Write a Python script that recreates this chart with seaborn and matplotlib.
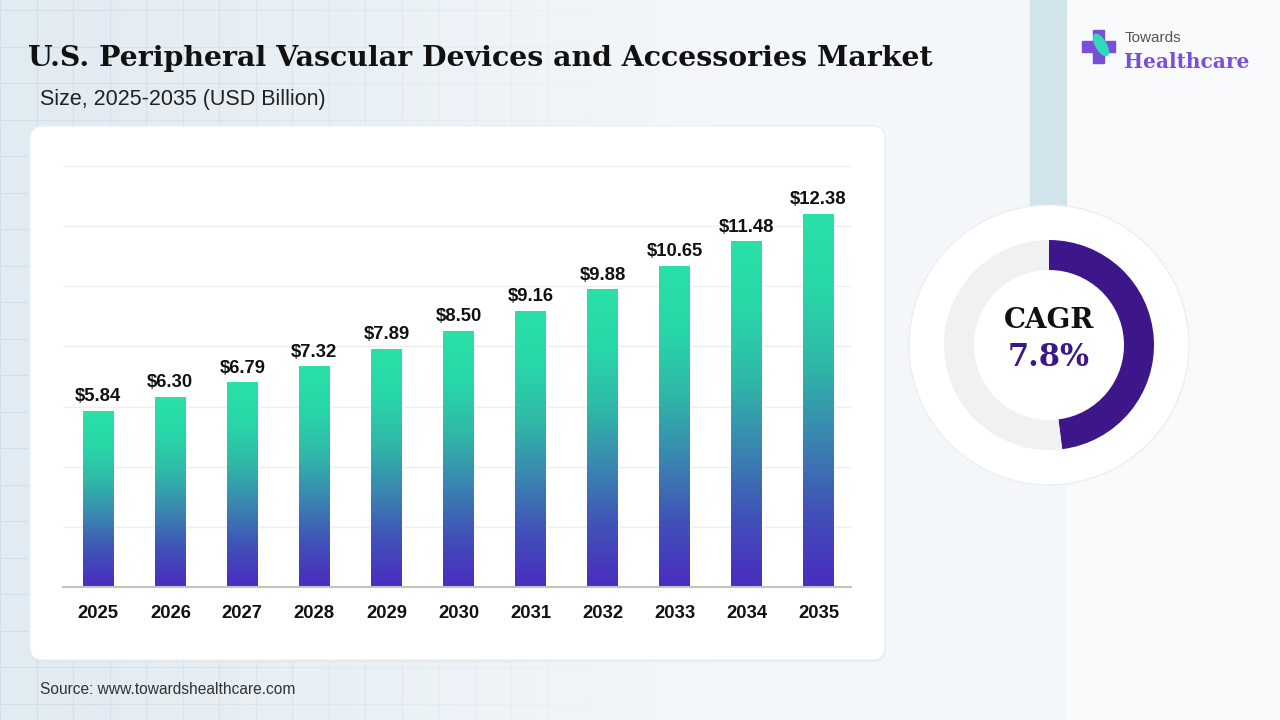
import numpy as np
import matplotlib
matplotlib.use("Agg")
import matplotlib.pyplot as plt
import seaborn as sns
from matplotlib.patches import FancyBboxPatch, Circle, Rectangle, Ellipse
from matplotlib.colors import LinearSegmentedColormap
from matplotlib.collections import LineCollection

# data
years = ["2025", "2026", "2027", "2028", "2029", "2030",
         "2031", "2032", "2033", "2034", "2035"]
market_size = [5.84, 6.30, 6.79, 7.32, 7.89, 8.50, 9.16, 9.88, 10.65, 11.48, 12.38]
value_labels = [f"${v:.2f}" for v in market_size]
cagr_text = "7.8%"
gauge_share = [0.48, 0.52]   # filled part of the ring vs rest

title = "U.S. Peripheral Vascular Devices and Accessories Market"
subtitle = "Size, 2025-2035 (USD Billion)"
source = "Source: www.towardshealthcare.com"

sns.set_theme(style="white")
plt.rcParams['font.family'] = ['Liberation Sans', 'DejaVu Sans']

W, H = 1280, 720
fig = plt.figure(figsize=(12.8, 7.2), dpi=100)

# ---- background layer, pixel coords ----
bg = fig.add_axes([0, 0, 1, 1], zorder=0)
bg_cmap = LinearSegmentedColormap.from_list('bg', ['#e1ebf2', '#eaf1f6', '#f3f7fa', '#f5f8fa'])
bg.imshow(np.linspace(0, 1, 256)[None, :], extent=[0, 1066, H, 0],
          cmap=bg_cmap, aspect='auto', zorder=0)

# faint grid that fades towards the right
segs, cols = [], []
step = 36.5
xs_edges = np.arange(0, 700, 20)
for gy in np.arange(10, H, step):
    for xa in xs_edges:
        segs.append([(xa, gy), (xa + 20, gy)])
        cols.append((0.80, 0.86, 0.91, max(0.0, 0.75 - xa / 850)))
for gx in np.arange(0, 700, step):
    segs.append([(gx, 0), (gx, H)])
    cols.append((0.80, 0.86, 0.91, max(0.0, 0.75 - gx / 850)))
bg.add_collection(LineCollection(segs, colors=cols, linewidths=0.8, zorder=1))

bg.add_patch(Rectangle((1066, 0), 214, H, color='#f9fafc', zorder=2))
bg.add_patch(Rectangle((1030, 0), 36, 205, color='#d1e3eb', zorder=2))

# card
bg.add_patch(FancyBboxPatch((31, 128), 855, 534, boxstyle='round,pad=0,rounding_size=13',
                            fc='#dde6ee', ec='none', alpha=0.6, zorder=3))
bg.add_patch(FancyBboxPatch((30, 126), 855, 534, boxstyle='round,pad=0,rounding_size=13',
                            fc='white', ec='#e9eef2', lw=0.8, zorder=4))

# outer disc of the gauge
bg.add_patch(Circle((1049, 345), 140, fc='white', ec='#eceef3', lw=1.0, zorder=3))

# logo
bg.add_patch(Rectangle((1082, 41), 33, 11, color='#7a4fd8', zorder=5))
bg.add_patch(Rectangle((1093, 30), 11, 33, color='#7a4fd8', zorder=5))
bg.add_patch(Ellipse((1101, 45), 10, 24, angle=-30, color='#33d8bb', zorder=6))
bg.set_xlim(0, W)
bg.set_ylim(H, 0)
bg.axis('off')

# ---- bar chart ----
ax = fig.add_axes([63 / W, (H - 587) / H, 788 / W, 421 / H], zorder=2)
ax.patch.set_alpha(0)
sns.barplot(x=years, y=market_size, ax=ax, width=0.43, color='#2ae0a8', saturation=1)

bar_cmap = LinearSegmentedColormap.from_list(
    'bar', ['#4a2cc0', '#4151b8', '#3a86b0', '#2fb8a8', '#29d7a8', '#28e1a8'])
grad = np.linspace(0, 1, 256)[:, None]
for p in ax.patches:
    x0, w, h = p.get_x(), p.get_width(), p.get_height()
    ax.imshow(grad, extent=[x0, x0 + w, 0, h], origin='lower', cmap=bar_cmap,
              aspect='auto', zorder=2)
    p.set_facecolor('none')

ax.bar_label(ax.containers[0], labels=value_labels, padding=4.5,
             fontsize=13.3, fontweight='bold', color='#111111')

ax.set_xlim(-0.49, 10.45)
ax.set_ylim(0, 14)
ax.set_yticks(range(0, 15, 2))
ax.yaxis.grid(True, color='#eeeeee', lw=1)
ax.set_axisbelow(True)
ax.tick_params(left=False, labelleft=False, bottom=False, pad=7)
for lbl in ax.get_xticklabels():
    lbl.set_fontweight('bold')
    lbl.set_fontsize(13.3)
    lbl.set_color('#111111')
for s in ['left', 'right', 'top']:
    ax.spines[s].set_visible(False)
ax.spines['bottom'].set_color('#c2c2c2')
ax.spines['bottom'].set_linewidth(1.5)
ax.set_xlabel('')
ax.set_ylabel('')

# ---- CAGR ring ----
axd = fig.add_axes([(1049 - 105) / W, (H - 345 - 105) / H, 210 / W, 210 / H], zorder=3)
axd.pie(gauge_share, colors=['#3d1689', '#f1f1f1'], startangle=90, counterclock=False,
        radius=1, wedgeprops=dict(width=30 / 105, linewidth=0))
axd.set_xlim(-1, 1)
axd.set_ylim(-1, 1)
axd.set_aspect('equal')
axd.axis('off')

fig.text(1049 / W, 1 - 320 / H, "CAGR", family=['DejaVu Serif'], weight='bold',
         size=20, ha='center', va='center', color='#111111')
fig.text(1049 / W, 1 - 357 / H, cagr_text, family=['DejaVu Serif'], weight='bold',
         size=22, ha='center', va='center', color='#3d1689')

# ---- texts ----
fig.text(28 / W, 1 - 59 / H, title, family=['DejaVu Serif'], weight='bold',
         size=20.4, va='center', color='#111111')
fig.text(40 / W, 1 - 99 / H, subtitle, size=15.5, va='center', color='#222222')
fig.text(40 / W, 1 - 689 / H, source, size=11.2, va='center', color='#333333')
fig.text(1125 / W, 1 - 38 / H, "Towards", size=11, va='center', color='#555555')
fig.text(1124 / W, 1 - 62 / H, "Healthcare", family=['DejaVu Serif'], weight='bold',
         size=14.5, va='center', color='#7a4fd8')

fig.savefig('out.png', dpi=100)
